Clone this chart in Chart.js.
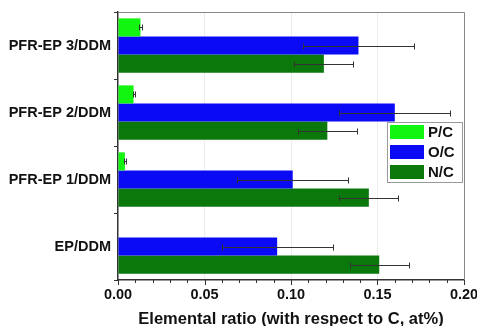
<!DOCTYPE html>
<html>
<head>
<meta charset="utf-8">
<script src="https://cdn.jsdelivr.net/npm/chart.js@4.4.1/dist/chart.umd.min.js"></script>
<style>
  html, body { margin: 0; padding: 0; background: #fff; }
  #wrap { width: 477px; height: 326px; }
</style>
</head>
<body>
<div id="wrap"><canvas id="ratioChart" width="477" height="326"></canvas></div>
<script>
const samples = ['PFR-EP 3/DDM', 'PFR-EP 2/DDM', 'PFR-EP 1/DDM', 'EP/DDM'];
const seriesNames = ['P/C', 'O/C', 'N/C'];
const pc = [0.013, 0.009, 0.004, 0];
const oc = [0.139, 0.160, 0.101, 0.092];
const nc = [0.119, 0.121, 0.145, 0.151];
const pcErr = [0.0006, 0.0006, 0.0006, 0];
const ocErr = [0.032, 0.032, 0.032, 0.032];
const ncErr = [0.017, 0.017, 0.017, 0.017];
const xTicks = [0.00, 0.05, 0.10, 0.15, 0.20];

const colors = ['#11f511', '#0a0af5', '#0a780a'];
const boldFont = { family: '"Liberation Sans", Arial, sans-serif', weight: 'bold' };

// horizontal error bars + small frame pieces drawn over the bars
const errorBars = {
  id: 'errorBars',
  afterDatasetsDraw(chart) {
    const ctx = chart.ctx;
    const xs = chart.scales.x;
    ctx.save();
    ctx.strokeStyle = '#333';
    ctx.lineWidth = 1;
    chart.data.datasets.forEach((ds, di) => {
      const meta = chart.getDatasetMeta(di);
      ds.errors.forEach((e, i) => {
        if (!e) return;
        const bar = meta.data[i];
        const v = ds.data[i];
        const x1 = Math.round(xs.getPixelForValue(v - e)) + 0.5;
        const x2 = Math.round(xs.getPixelForValue(v + e)) + 0.5;
        const y = Math.round(bar.y) + 0.5;
        ctx.beginPath();
        ctx.moveTo(x1, y); ctx.lineTo(x2, y);
        ctx.moveTo(x1, y - 3); ctx.lineTo(x1, y + 3);
        ctx.moveTo(x2, y - 3); ctx.lineTo(x2, y + 3);
        ctx.stroke();
      });
    });

    const a = chart.chartArea;
    // top and right frame
    ctx.strokeStyle = '#888';
    ctx.beginPath();
    ctx.moveTo(a.left, a.top + 0.5); ctx.lineTo(a.right + 0.5, a.top + 0.5);
    ctx.lineTo(a.right + 0.5, a.bottom);
    ctx.stroke();

    // ticks on the bottom axis: long at 0.05 steps, short at 0.01 steps
    ctx.strokeStyle = '#333';
    for (let k = 0; k <= 20; k++) {
      const x = Math.round(xs.getPixelForValue(k / 100)) + 0.5;
      const len = k % 5 === 0 ? 5 : 3;
      ctx.beginPath();
      ctx.moveTo(x, a.bottom); ctx.lineTo(x, a.bottom + len);
      ctx.stroke();
    }

    // legend box
    const lx = 387, ly = 122, lw = 75, lh = 60;
    ctx.fillStyle = '#fff';
    ctx.fillRect(lx, ly, lw, lh);
    ctx.strokeStyle = '#999';
    ctx.strokeRect(lx + 0.5, ly + 0.5, lw, lh);
    ctx.font = 'bold 15px "Liberation Sans", Arial, sans-serif';
    ctx.textBaseline = 'middle';
    chart.data.datasets.forEach((ds, di) => {
      const sy = ly + 3 + di * 20;
      ctx.fillStyle = ds.backgroundColor;
      ctx.fillRect(lx + 3, sy, 34, 14);
      ctx.fillStyle = '#111';
      ctx.fillText(ds.label, lx + 41, sy + 7.5);
    });
    ctx.restore();
  }
};

new Chart(document.getElementById('ratioChart'), {
  type: 'bar',
  data: {
    labels: samples,
    datasets: [
      { label: seriesNames[0], data: pc, errors: pcErr, backgroundColor: colors[0] },
      { label: seriesNames[1], data: oc, errors: ocErr, backgroundColor: colors[1] },
      { label: seriesNames[2], data: nc, errors: ncErr, backgroundColor: colors[2] }
    ]
  },
  options: {
    indexAxis: 'y',
    responsive: false,
    animation: false,
    barPercentage: 1.0,
    categoryPercentage: 0.81,
    layout: { padding: { top: 12, right: 13, left: 0, bottom: 0 } },
    plugins: {
      legend: { display: false },
      tooltip: { enabled: false }
    },
    scales: {
      x: {
        min: 0,
        max: 0.2,
        afterBuildTicks(scale) {
          scale.ticks = xTicks.map(v => ({ value: v }));
        },
        afterFit(scale) {
          scale.height = 46;
          scale.paddingLeft = 0;
          scale.paddingRight = 0;
        },
        ticks: {
          font: { ...boldFont, size: 14.5 },
          color: '#111',
          padding: 2,
          callback: v => v.toFixed(2)
        },
        grid: {
          drawTicks: true,
          tickLength: 4,
          tickColor: 'rgba(0,0,0,0)',
          color: ctx => (ctx.tick && ctx.tick.value > 0 && ctx.tick.value < 0.2) ? '#ececec' : 'rgba(0,0,0,0)'
        },
        border: { display: true, color: '#333', width: 1.5 },
        title: {
          display: true,
          text: 'Elemental ratio (with respect to C, at%)',
          font: { ...boldFont, size: 16.5, lineHeight: 1 },
          color: '#111',
          padding: { top: 0, bottom: -2 }
        }
      },
      y: {
        afterFit(scale) { scale.width = 118; },
        ticks: {
          font: { ...boldFont, size: 14.5 },
          color: '#111',
          padding: 3
        },
        grid: {
          offset: true,
          drawOnChartArea: false,
          tickLength: 4,
          tickColor: '#333'
        },
        border: { display: true, color: '#333', width: 1.5 }
      }
    }
  },
  plugins: [errorBars]
});
</script>
</body>
</html>
